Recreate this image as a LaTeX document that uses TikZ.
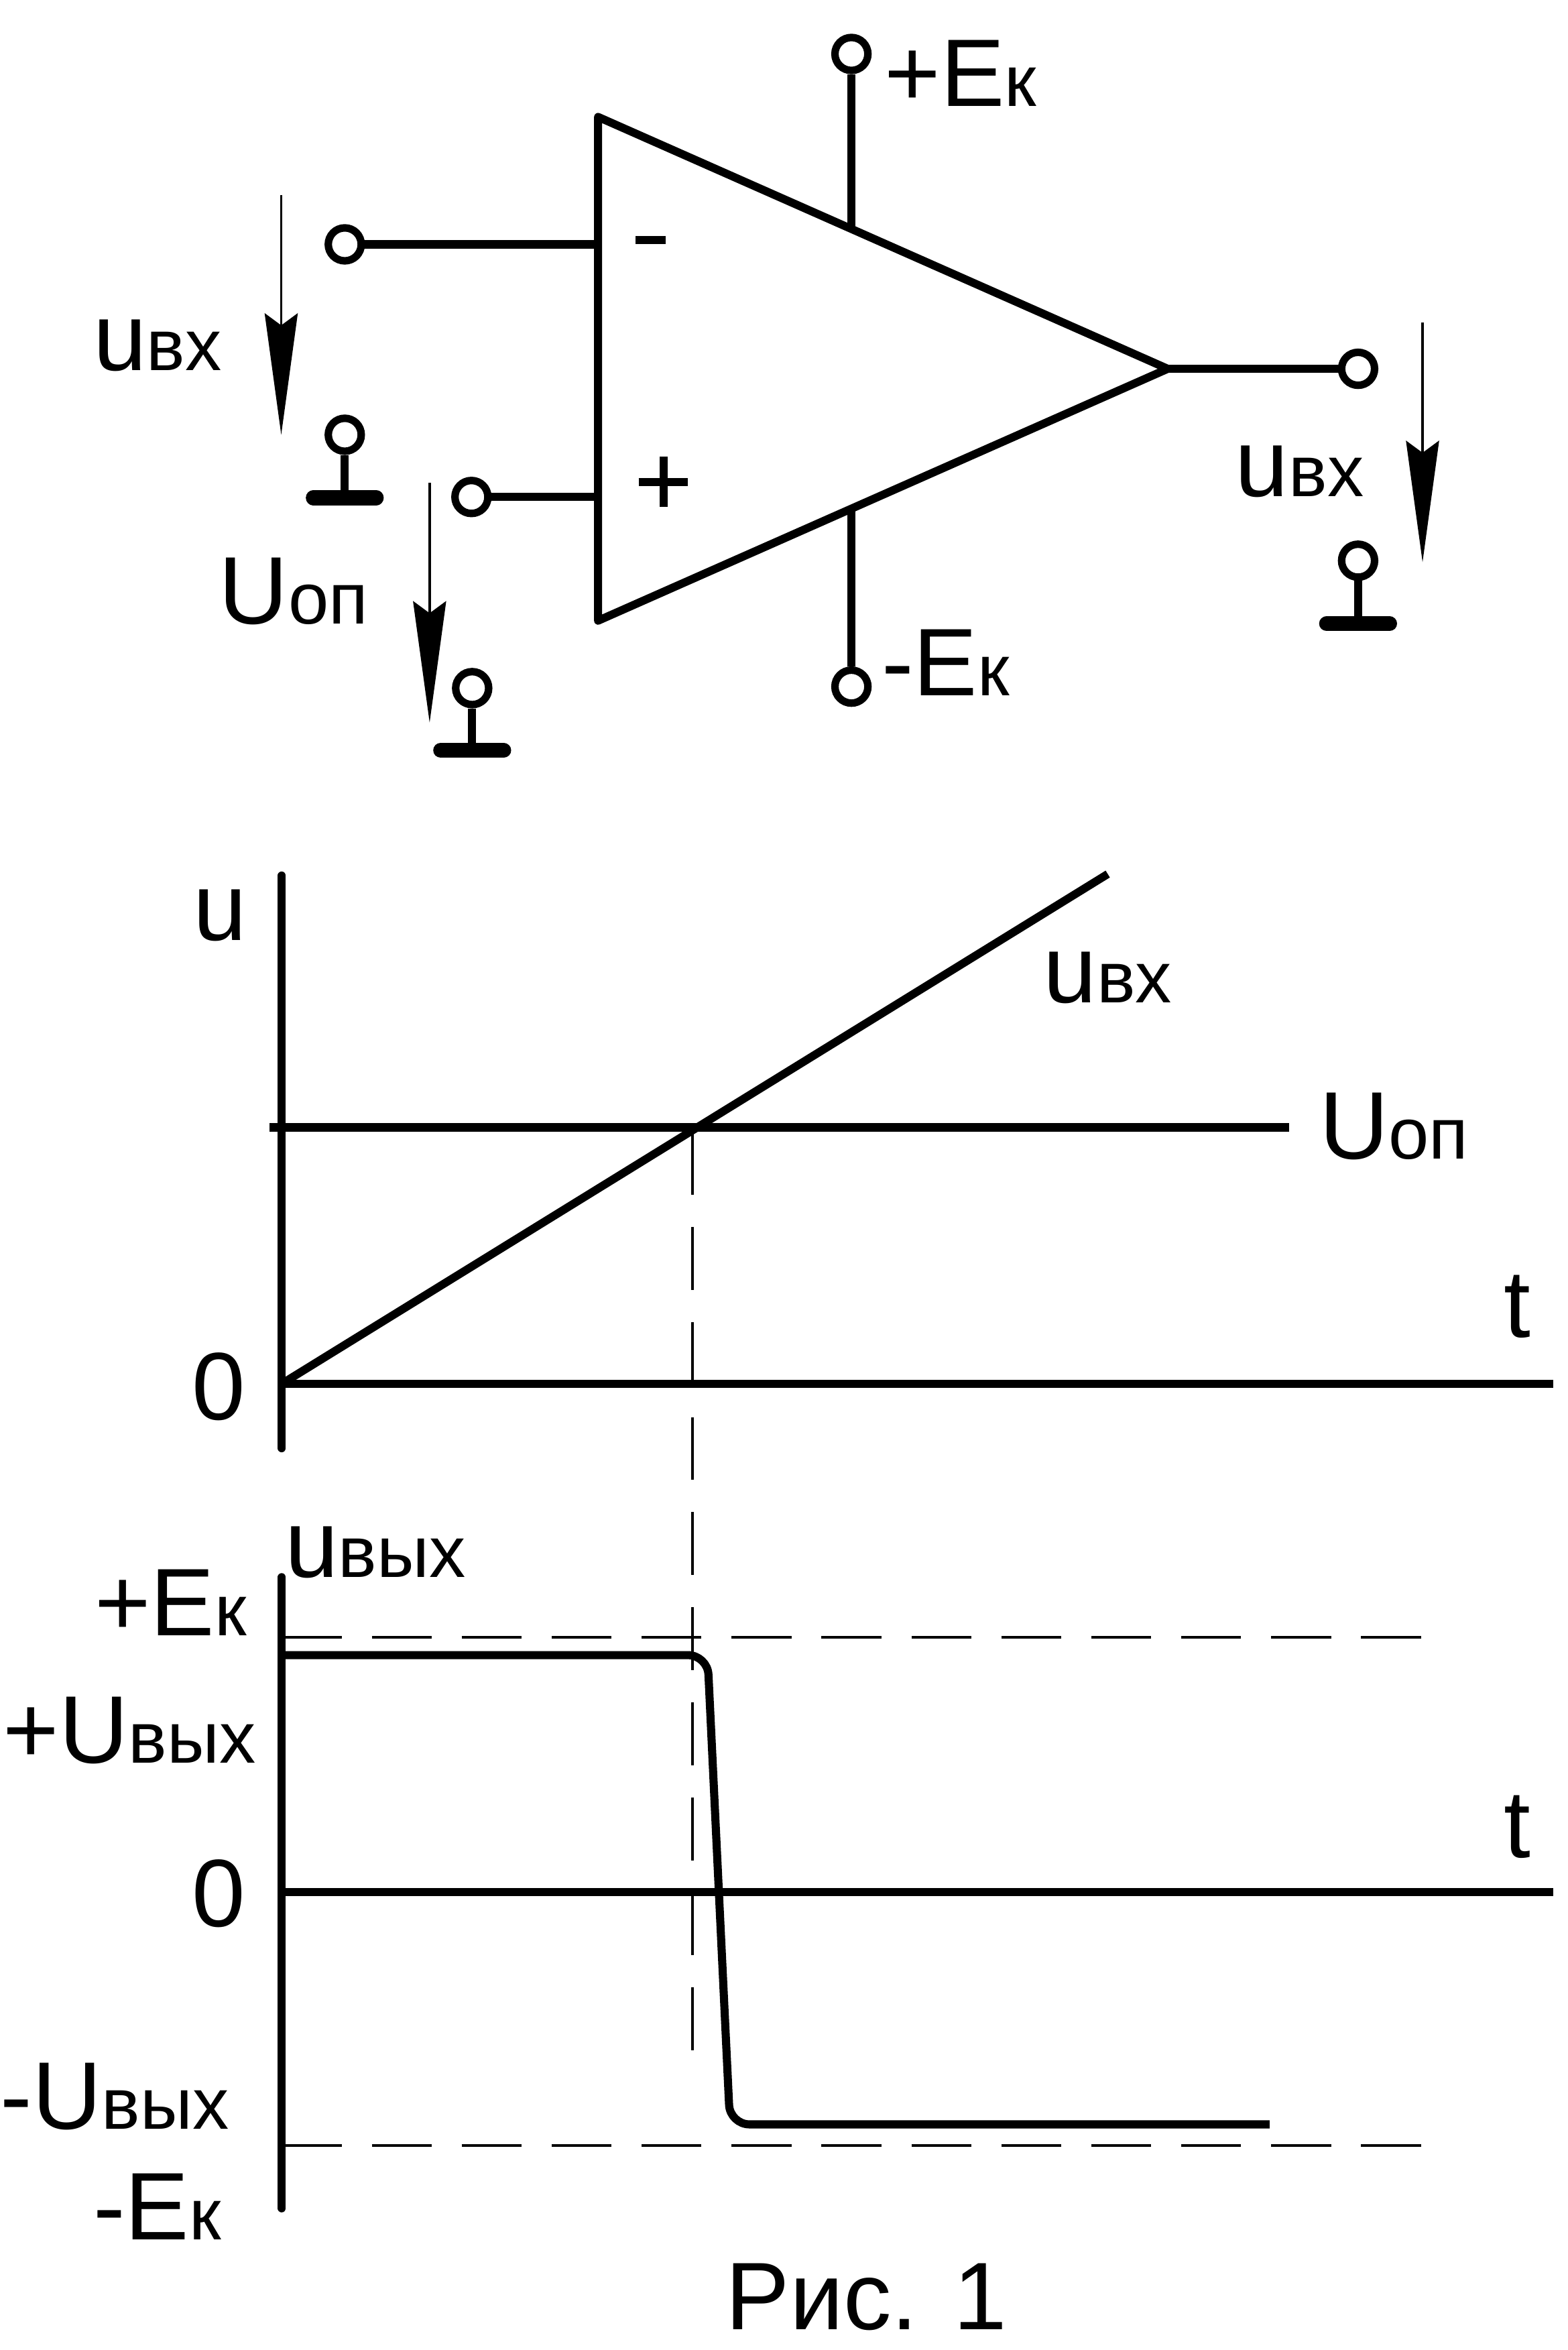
\documentclass[tikz,border=0pt]{standalone}
\usepackage{fontspec}
\setmainfont{Liberation Sans}
\usetikzlibrary{arrows.meta}
\tikzset{
  wire/.style={black, line width=5.4pt},
  hdash/.style={black, line width=1.7pt, dash pattern=on 40pt off 20pt},
  vdash/.style={black, line width=1.7pt, dash pattern=on 42pt off 21.4pt},
  terminal/.style={circle, draw=black, fill=white, line width=5pt, inner sep=0pt, minimum size=22pt},
  pointer/.style={black, line width=1.7pt, -{Stealth[length=81pt,width=22pt,inset=8pt]}},
  lab/.style={inner sep=0pt, anchor=base west, font=\fontsize{64}{64}\selectfont},
}
\newcommand{\sub}[1]{{\fontsize{48.5}{50}\selectfont #1}}
\begin{document}
\begin{tikzpicture}[x=1pt,y=-1pt]
\useasboundingbox (0,0) rectangle (1045.6,1567.5);
% amplifier
\coordinate (tl) at (399,78);
\coordinate (bl) at (399,414);
\coordinate (tip) at (779,246);
\draw[wire, line join=round] (tl) -- (tip) -- (bl) -- cycle;
% terminals
\node[terminal] (pk) at (568,36) {};
\node[terminal] (mk) at (568,458) {};
\node[terminal] (inm) at (230,163) {};
\node[terminal] (inp) at (314.5,331.5) {};
\node[terminal] (out) at (906,246) {};
\node[terminal] (gnda) at (230,290) {};
\node[terminal] (gndb) at (315,459) {};
\node[terminal] (gndc) at (906,374) {};
\draw[wire] (pk) -- (568,153);
\draw[wire] (mk) -- (568,341);
\draw[wire] (inm) -- (399,163);
\draw[wire] (inp) -- (399,331.5);
\draw[wire] (tip) -- (out);
% ground
\foreach \g/\gx/\gy in {gnda/230/332,gndb/315/500.5,gndc/906/416} {
  \draw[wire] (\g) -- (\gx,\gy);
  \draw[black, line width=10pt, line cap=round] (\gx-21,\gy) -- (\gx+21,\gy);
}
% pointers
\coordinate (pa) at (187.6,130); \coordinate (pb) at (187.6,290);
\coordinate (pc) at (286.6,322); \coordinate (pd) at (286.6,482);
\coordinate (pe) at (949,215); \coordinate (pf) at (949,375);
\draw[pointer] (pa) -- (pb);
\draw[pointer] (pc) -- (pd);
\draw[pointer] (pe) -- (pf);
% signs
\draw[wire] (424,160) -- (444,160);
\draw[wire] (426,321.5) -- (459,321.5) (442.6,304.6) -- (442.6,338);
% labels of the amplifier
\node[lab] (lpk) at (590,71) {+E\sub{к}};
\node[lab] (lmk) at (588,464) {-E\sub{к}};
\node[lab] (luin) at (62,247) {u\sub{вх}};
\node[lab] (luout) at (824,331) {u\sub{вх}};
\node[lab] (luop) at (146,416) {U\sub{оп}};
% upper graph
\draw[wire, line cap=round] (188,584) -- (188,966);
\draw[wire] (188,923) -- (1036,923);
\draw[wire] (180,752) -- (860,752);
\draw[wire] (188,923) -- (739,583);
\draw[vdash] (462,755) -- (462,1371);
\node[lab] at (129,627) {u};
\node[lab] at (696,669) {u\sub{вх}};
\node[lab] at (880,773) {U\sub{оп}};
\node[lab] at (1003,892) {t};
\node[lab] at (128,947) {0};
% lower graph
\draw[wire, line cap=round] (188,1052) -- (188,1473);
\draw[wire] (188,1262) -- (1036,1262);
\draw[hdash] (188,1092) -- (950,1092);
\draw[hdash] (188,1431) -- (950,1431);
\draw[wire, rounded corners=13pt] (188,1104) -- (472,1104) -- (487,1417) -- (847,1417);
\node[lab] at (190,1052) {u\sub{вых}};
\node[lab] at (63,1091) {+E\sub{к}};
\node[lab] at (2,1176) {+U\sub{вых}};
\node[lab] at (128,1285) {0};
\node[lab] at (1003,1239) {t};
\node[lab] at (0,1420) {-U\sub{вых}};
\node[lab] at (62,1494) {-E\sub{к}};
\node[lab] at (484,1554) {Рис. 1};
\end{tikzpicture}
\end{document}
